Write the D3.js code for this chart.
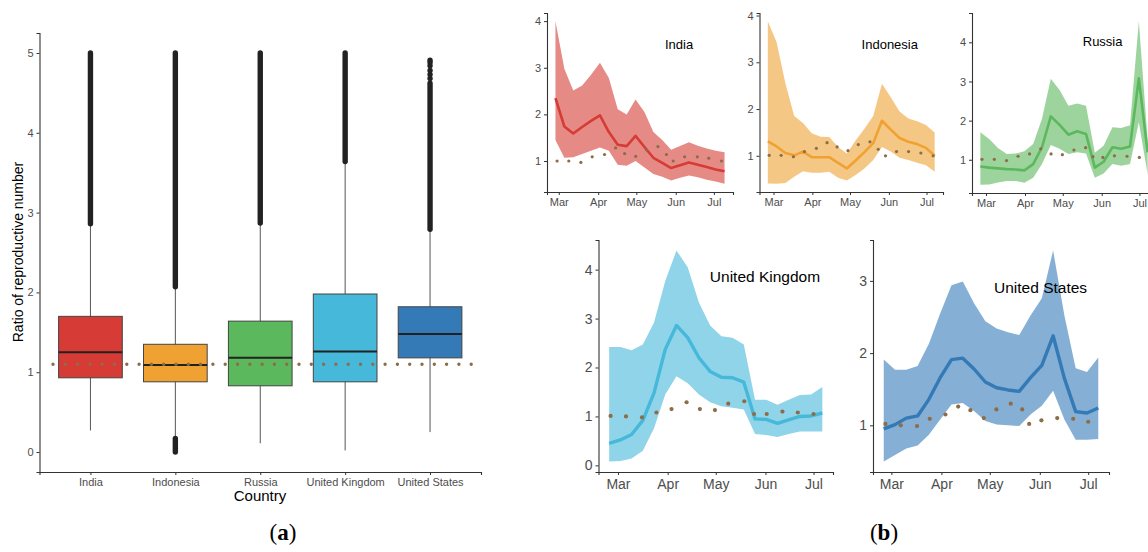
<!DOCTYPE html>
<html>
<head>
<meta charset="utf-8">
<script src="https://cdn.jsdelivr.net/npm/d3@7"></script>
<style>
  body { margin: 0; background: #fff; }
  svg { display: block; font-family: "Liberation Sans", Arial, sans-serif; }
</style>
</head>
<body>
<svg id="chart" width="1148" height="552"></svg>
<script>
// ----- panel (a): boxplots
const countries = ["India", "Indonesia", "Russia", "United Kingdom", "United States"];
const countryColors = ["#d63c35", "#efa232", "#5cb85c", "#46b8da", "#337ab7"];
const q1 = [0.93, 0.88, 0.83, 0.88, 1.18];
const medians = [1.25, 1.09, 1.18, 1.26, 1.48];
const q3 = [1.70, 1.35, 1.64, 1.98, 1.82];
const whiskerLow = [0.27, 0.19, 0.11, 0.02, 0.25];
const whiskerHigh = [2.85, 2.06, 2.86, 3.63, 2.78];
const outlierHighFrom = [2.86, 2.07, 2.87, 3.64, 2.79];
const outlierHighTo = [5.0, 5.0, 5.0, 5.0, 4.62];
const outlierLowFrom = [null, 0.0, null, null, null];
const outlierLowTo = [null, 0.17, null, null, null];
const usExtraOutliers = [4.68, 4.73, 4.78, 4.84, 4.88, 4.91];
const refRatio = 1.1;
const ratioTicks = [0, 1, 2, 3, 4, 5];

// ----- panel (b): weekly estimates
const monthNames = ["Mar", "Apr", "May", "Jun", "Jul"];
const monthDays = [0, 31, 61, 92, 122]; // days since 1 March
const weekOffsets = [0, 7, 14, 21, 28, 35, 42, 49, 56, 63, 70, 77, 84, 91, 98, 105, 112, 119, 126, 133];

const indiaStart = -2.6;
const indiaMedian = [2.35, 1.74, 1.59, 1.73, 1.86, 1.98, 1.62, 1.35, 1.32, 1.54, 1.30, 1.07, 0.96, 0.85, 0.91, 0.97, 0.92, 0.87, 0.82, 0.78];
const indiaUpper = [4.0, 2.98, 2.51, 2.62, 2.85, 3.11, 2.78, 2.11, 2.0, 2.32, 2.05, 1.62, 1.45, 1.24, 1.32, 1.40, 1.33, 1.27, 1.22, 1.19];
const indiaLower = [1.45, 1.07, 1.08, 1.15, 1.22, 1.29, 1.22, 0.92, 0.90, 1.0, 0.86, 0.72, 0.66, 0.58, 0.64, 0.69, 0.65, 0.60, 0.56, 0.51];
const indiaDotDays = [-1.3, 7.9, 17.4, 26.3, 36, 44.7, 51.8, 60.5, 69, 78, 84.7, 90, 99, 109, 118, 128];
const indiaDotValues = [1.0, 1.0, 0.97, 1.09, 1.14, 1.28, 1.16, 1.10, 1.24, 1.31, 1.14, 1.0, 1.09, 1.09, 1.06, 1.0];

const indonesiaStart = -4.5;
const indonesiaMedian = [1.31, 1.20, 1.06, 1.01, 1.09, 0.97, 0.97, 0.97, 0.85, 0.73, 0.90, 1.08, 1.27, 1.75, 1.56, 1.38, 1.30, 1.25, 1.17, 1.0];
const indonesiaUpper = [3.88, 3.43, 2.55, 1.85, 1.70, 1.48, 1.41, 1.40, 1.19, 1.05, 1.33, 1.58, 1.85, 2.54, 2.25, 1.95, 1.80, 1.74, 1.66, 1.50];
const indonesiaLower = [0.41, 0.40, 0.42, 0.55, 0.67, 0.64, 0.64, 0.66, 0.53, 0.47, 0.59, 0.73, 0.91, 1.19, 1.09, 0.96, 0.91, 0.85, 0.80, 0.66];
const indonesiaDotDays = [-3.4, 6.1, 15.9, 24.7, 34.2, 42.7, 50.7, 59.4, 67.6, 76.9, 83.5, 89.3, 98.1, 107.7, 117.5, 127.3];
const indonesiaDotValues = [1.01, 1.01, 0.98, 1.09, 1.16, 1.28, 1.19, 1.11, 1.24, 1.30, 1.14, 1.0, 1.09, 1.09, 1.06, 1.0];

const russiaStart = -4.5;
const russiaMedian = [0.83, 0.80, 0.78, 0.76, 0.75, 0.73, 0.89, 1.32, 2.11, 1.89, 1.64, 1.73, 1.66, 0.80, 0.95, 1.32, 1.28, 1.34, 3.08, 1.19];
const russiaUpper = [1.70, 1.53, 1.30, 1.15, 1.16, 1.22, 1.40, 2.05, 3.07, 2.78, 2.38, 2.44, 2.38, 1.18, 1.36, 1.83, 1.81, 1.88, 4.54, 1.50];
const russiaLower = [0.36, 0.37, 0.42, 0.46, 0.46, 0.41, 0.54, 0.89, 1.38, 1.28, 1.15, 1.19, 1.16, 0.54, 0.65, 0.89, 0.85, 0.89, 1.96, 0.63];
const russiaDotDays = [-3.2, 6.6, 16.3, 25.5, 34.6, 43.5, 51.7, 60.7, 69.9, 79.2, 85, 92.9, 102.1, 112.1, 121.9];
const russiaDotValues = [1.01, 1.01, 0.98, 1.09, 1.15, 1.28, 1.15, 1.13, 1.25, 1.31, 1.08, 1.06, 1.10, 1.09, 1.06];

const ukStart = -5.5;
const ukMedian = [0.45, 0.52, 0.63, 0.92, 1.48, 2.37, 2.86, 2.61, 2.20, 1.92, 1.80, 1.79, 1.70, 0.95, 0.94, 0.86, 0.93, 1.0, 1.01, 1.07];
const ukUpper = [2.42, 2.42, 2.35, 2.47, 2.92, 3.77, 4.39, 4.05, 3.33, 2.86, 2.64, 2.61, 2.47, 1.34, 1.34, 1.24, 1.34, 1.44, 1.45, 1.60];
const ukLower = [0.08, 0.09, 0.14, 0.30, 0.76, 1.45, 1.82, 1.68, 1.45, 1.29, 1.21, 1.18, 1.14, 0.64, 0.62, 0.58, 0.64, 0.69, 0.69, 0.69];
const ukDotDays = [-4.6, 5, 15, 24, 33.4, 42.8, 51.1, 60.5, 68.8, 78.8, 84.9, 92.8, 102.6, 112.2, 122];
const ukDotValues = [1.01, 1.0, 0.98, 1.08, 1.15, 1.29, 1.15, 1.13, 1.26, 1.31, 1.05, 1.05, 1.10, 1.08, 1.05];

const usStart = -4.75;
const usMedian = [0.95, 1.01, 1.10, 1.13, 1.36, 1.66, 1.91, 1.93, 1.78, 1.60, 1.52, 1.49, 1.47, 1.66, 1.83, 2.24, 1.65, 1.19, 1.17, 1.24];
const usUpper = [1.91, 1.77, 1.77, 1.82, 2.13, 2.55, 2.94, 2.99, 2.69, 2.44, 2.34, 2.29, 2.25, 2.52, 2.76, 3.42, 2.52, 1.79, 1.74, 1.94];
const usLower = [0.50, 0.59, 0.68, 0.72, 0.87, 1.08, 1.29, 1.31, 1.20, 1.06, 1.01, 1.0, 0.99, 1.15, 1.27, 1.48, 1.08, 0.80, 0.80, 0.81];
const usDotDays = [-3.7, 5.8, 15.9, 23.8, 33.5, 41.4, 49, 57.3, 65.1, 74, 81.1, 85.4, 93, 102.8, 112.7, 122];
const usDotValues = [1.02, 1.0, 0.99, 1.09, 1.15, 1.26, 1.21, 1.10, 1.22, 1.30, 1.22, 1.02, 1.07, 1.10, 1.09, 1.05];

const dotColor = "#8c6d48";
const svg = d3.select("#chart");

function styleAxis(g, size) {
  g.select(".domain").attr("stroke", "#333").attr("stroke-width", 1.1);
  g.selectAll(".tick line").attr("stroke", "#333");
  g.selectAll(".tick text").attr("fill", "#4d4d4d").style("font-size", size + "px");
}

// ================= panel (a)
const aX = d3.scalePoint().domain(countries).range([39.5, 481]).padding(0.6);
const aY = d3.scaleLinear().domain([-0.25, 5.25]).range([472, 33]);
const boxW = aX.step() * 0.75;

svg.append("g")
  .attr("transform", "translate(0,472)")
  .call(d3.axisBottom(aX).tickSize(3).tickPadding(3))
  .call(g => styleAxis(g, 11));

svg.append("g")
  .attr("transform", "translate(39.5,0)")
  .call(d3.axisLeft(aY).tickValues(ratioTicks).tickFormat(d3.format("d")).tickSize(3).tickPadding(3))
  .call(g => styleAxis(g, 11));

svg.append("text")
  .attr("transform", "translate(18,252) rotate(-90)")
  .attr("text-anchor", "middle")
  .attr("dominant-baseline", "central")
  .style("font-size", "14px")
  .text("Ratio of reproductive number");

svg.append("text")
  .attr("x", 260).attr("y", 501)
  .attr("text-anchor", "middle")
  .style("font-size", "15px")
  .text("Country");

const boxes = svg.append("g");
countries.forEach((c, i) => {
  const cx = aX(c);
  // whiskers
  boxes.append("line")
    .attr("x1", cx).attr("x2", cx)
    .attr("y1", aY(whiskerLow[i])).attr("y2", aY(whiskerHigh[i]))
    .attr("stroke", "#555").attr("stroke-width", 1);
  // dense outlier columns
  boxes.append("line")
    .attr("x1", cx).attr("x2", cx)
    .attr("y1", aY(outlierHighFrom[i])).attr("y2", aY(outlierHighTo[i]))
    .attr("stroke", "#222").attr("stroke-width", 5.4).attr("stroke-linecap", "round");
  if (outlierLowFrom[i] !== null) {
    boxes.append("line")
      .attr("x1", cx).attr("x2", cx)
      .attr("y1", aY(outlierLowFrom[i])).attr("y2", aY(outlierLowTo[i]))
      .attr("stroke", "#222").attr("stroke-width", 5.4).attr("stroke-linecap", "round");
  }
  boxes.append("rect")
    .attr("x", cx - boxW / 2)
    .attr("y", aY(q3[i]))
    .attr("width", boxW)
    .attr("height", aY(q1[i]) - aY(q3[i]))
    .attr("fill", countryColors[i])
    .attr("stroke", "#444").attr("stroke-width", 1);
  boxes.append("line")
    .attr("x1", cx - boxW / 2).attr("x2", cx + boxW / 2)
    .attr("y1", aY(medians[i])).attr("y2", aY(medians[i]))
    .attr("stroke", "#222").attr("stroke-width", 2);
});

boxes.selectAll("circle.extra")
  .data(usExtraOutliers)
  .enter()
  .append("circle")
  .attr("class", "extra")
  .attr("cx", aX("United States"))
  .attr("cy", d => aY(d))
  .attr("r", 2.7)
  .attr("fill", "#222");

svg.append("line")
  .attr("x1", 53).attr("x2", 481)
  .attr("y1", aY(refRatio)).attr("y2", aY(refRatio))
  .attr("stroke", dotColor)
  .attr("stroke-width", 3.4)
  .attr("stroke-linecap", "round")
  .attr("stroke-dasharray", "0,12.3");

// ================= panel (b)
const panels = [
  { name: "India", color: countryColors[0], start: indiaStart, median: indiaMedian, upper: indiaUpper, lower: indiaLower,
    dotDays: indiaDotDays, dotValues: indiaDotValues, yTicks: [1, 2, 3, 4],
    left: 547, right: 733, top: 13, bottom: 192, titleY: 44, small: true },
  { name: "Indonesia", color: countryColors[1], start: indonesiaStart, median: indonesiaMedian, upper: indonesiaUpper, lower: indonesiaLower,
    dotDays: indonesiaDotDays, dotValues: indonesiaDotValues, yTicks: [1, 2, 3, 4],
    left: 759.5, right: 943, top: 13, bottom: 192, titleY: 44, small: true },
  { name: "Russia", color: countryColors[2], start: russiaStart, median: russiaMedian, upper: russiaUpper, lower: russiaLower,
    dotDays: russiaDotDays, dotValues: russiaDotValues, yTicks: [1, 2, 3, 4],
    left: 972, right: 1156, top: 13, bottom: 193, titleY: 41, small: true },
  { name: "United Kingdom", color: countryColors[3], start: ukStart, median: ukMedian, upper: ukUpper, lower: ukLower,
    dotDays: ukDotDays, dotValues: ukDotValues, yTicks: [0, 1, 2, 3, 4],
    left: 598.5, right: 833, top: 240, bottom: 472, titleY: 276, small: false },
  { name: "United States", color: countryColors[4], start: usStart, median: usMedian, upper: usUpper, lower: usLower,
    dotDays: usDotDays, dotValues: usDotValues, yTicks: [1, 2, 3],
    left: 873, right: 1109, top: 240, bottom: 472, titleY: 287, small: false }
];

panels.forEach(p => {
  const days = weekOffsets.map(w => p.start + w);
  const allDays = days.concat(p.dotDays);
  const dMin = d3.min(allDays), dMax = d3.max(allDays);
  const dPad = (dMax - dMin) * 0.05;
  const x = d3.scaleLinear().domain([dMin - dPad, dMax + dPad]).range([p.left, p.right]);

  const allV = p.lower.concat(p.upper, p.dotValues);
  const vMin = d3.min(allV), vMax = d3.max(allV);
  const vPad = (vMax - vMin) * 0.05;
  const y = d3.scaleLinear().domain([vMin - vPad, vMax + vPad]).range([p.bottom, p.top]);

  const rows = days.map((d, i) => ({ day: d, med: p.median[i], lo: p.lower[i], hi: p.upper[i] }));
  const g = svg.append("g");
  const fontSize = p.small ? 11 : 14;

  g.append("path")
    .datum(rows)
    .attr("d", d3.area().x(d => x(d.day)).y0(d => y(d.lo)).y1(d => y(d.hi)))
    .attr("fill", p.color)
    .attr("fill-opacity", 0.6);

  g.append("path")
    .datum(rows)
    .attr("d", d3.line().x(d => x(d.day)).y(d => y(d.med)))
    .attr("fill", "none")
    .attr("stroke", p.color)
    .attr("stroke-width", p.small ? 2.6 : 3.4)
    .attr("stroke-linejoin", "round");

  g.selectAll("circle")
    .data(p.dotDays)
    .enter()
    .append("circle")
    .attr("cx", d => x(d))
    .attr("cy", (d, i) => y(p.dotValues[i]))
    .attr("r", p.small ? 1.6 : 2.1)
    .attr("fill", dotColor);

  g.append("g")
    .attr("transform", "translate(0," + p.bottom + ")")
    .call(d3.axisBottom(x).tickValues(monthDays).tickFormat((d, i) => monthNames[i]).tickSize(3).tickPadding(p.small ? 3 : 4))
    .call(a => styleAxis(a, fontSize));

  g.append("g")
    .attr("transform", "translate(" + p.left + ",0)")
    .call(d3.axisLeft(y).tickValues(p.yTicks).tickFormat(d3.format("d")).tickSize(3).tickPadding(3))
    .call(a => styleAxis(a, fontSize));

  g.append("text")
    .attr("x", p.left + (p.right - p.left) * 0.71)
    .attr("y", p.titleY)
    .attr("text-anchor", "middle")
    .attr("dominant-baseline", "central")
    .style("font-size", (p.small ? 13 : 15.5) + "px")
    .text(p.name);
});

// ----- sub-figure captions
[["a", 283], ["b", 884]].forEach(([letter, cx]) => {
  const t = svg.append("text")
    .attr("x", cx).attr("y", 540)
    .attr("text-anchor", "middle")
    .style("font-family", "'Liberation Serif', 'Times New Roman', serif")
    .style("font-size", "23px");
  t.append("tspan").text("(");
  t.append("tspan").style("font-weight", "bold").text(letter);
  t.append("tspan").text(")");
});
</script>
</body>
</html>
